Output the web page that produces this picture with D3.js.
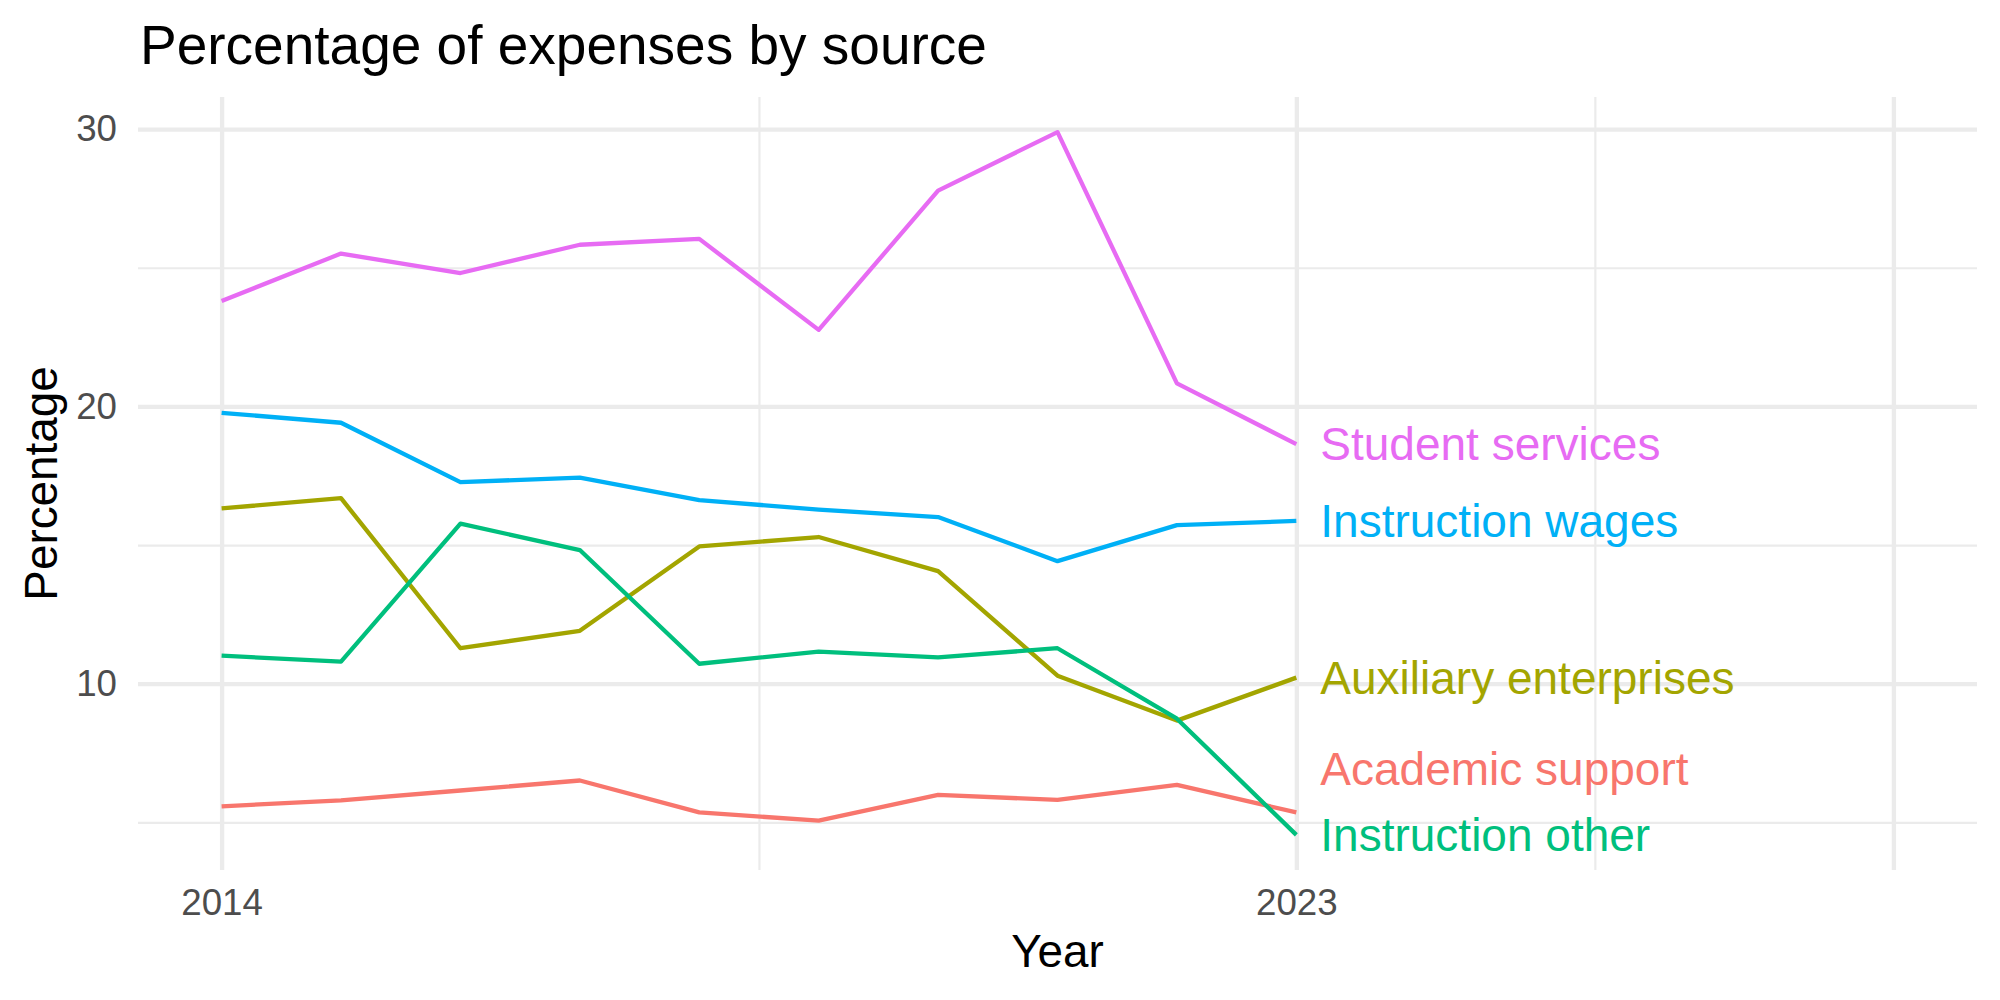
<!DOCTYPE html>
<html>
<head>
<meta charset="utf-8">
<script src="https://cdn.jsdelivr.net/npm/d3@7"></script>
<style>
  body { margin: 0; background: #fff; }
  text { font-family: "Liberation Sans", Arial, sans-serif; }
</style>
</head>
<body>
<div id="chart"></div>
<script>
// Data
const years = [2014, 2015, 2016, 2017, 2018, 2019, 2020, 2021, 2022, 2023];
const categories = ['Academic support', 'Auxiliary enterprises', 'Instruction other', 'Instruction wages', 'Student services'];
const academicSupport = [5.58, 5.79, 6.15, 6.51, 5.36, 5.06, 5.99, 5.81, 6.35, 5.36];
const auxiliaryEnterprises = [16.32, 16.69, 11.28, 11.91, 14.95, 15.29, 14.06, 10.29, 8.67, 10.22];
const instructionOther = [11.01, 10.80, 15.77, 14.82, 10.72, 11.16, 10.95, 11.28, 8.74, 4.55];
const instructionWages = [19.77, 19.41, 17.27, 17.43, 16.62, 16.28, 16.01, 14.42, 15.72, 15.87];
const studentServices = [23.80, 25.51, 24.81, 25.83, 26.04, 22.76, 27.78, 29.89, 20.83, 18.64];
const seriesValues = [academicSupport, auxiliaryEnterprises, instructionOther, instructionWages, studentServices];

const xLimits = [2014, 2028];
const xBreaks = [2014, 2023, 2028];
const xTickLabels = ['2014', '2023', ''];
const xMinor = [2018.5, 2025.5];
const yBreaks = [10, 20, 30];
const yTickLabels = ['10', '20', '30'];
const yMinor = [5, 15, 25];

const colors = ['#F8766D', '#A3A500', '#00BF7D', '#00B0F6', '#E76BF3'];

// Layout
const W = 2000, H = 1000;
const panel = { left: 138, right: 1977, top: 97, bottom: 870 };
const ph = panel.bottom - panel.top;
const gridColor = '#EBEBEB';

const svg = d3.select('#chart')
  .append('svg')
  .attr('width', W)
  .attr('height', H);

// Scales (5% expansion like ggplot)
const xr = xLimits[1] - xLimits[0];
const x = d3.scaleLinear()
  .domain([xLimits[0] - 0.05 * xr, xLimits[1] + 0.05 * xr])
  .range([panel.left, panel.right]);

const allVals = seriesValues.flat();
const yExt = d3.extent(allVals);
const yr = yExt[1] - yExt[0];
const y = d3.scaleLinear()
  .domain([yExt[0] - 0.05 * yr, yExt[1] + 0.05 * yr])
  .range([panel.bottom, panel.top]);

// Grid lines
function grid(g, width) {
  g.select('.domain').remove();
  g.selectAll('.tick line').attr('stroke', gridColor).attr('stroke-width', width);
}

svg.append('g')
  .attr('transform', `translate(0,${panel.bottom})`)
  .call(d3.axisBottom(x).tickValues(xMinor).tickSize(-ph).tickFormat(''))
  .call(g => grid(g, 2.2));
svg.append('g')
  .attr('transform', `translate(${panel.left},0)`)
  .call(d3.axisLeft(y).tickValues(yMinor).tickSize(-(panel.right - panel.left)).tickFormat(''))
  .call(g => grid(g, 2.2));
svg.append('g')
  .attr('transform', `translate(0,${panel.bottom})`)
  .call(d3.axisBottom(x).tickValues(xBreaks).tickSize(-ph).tickFormat(''))
  .call(g => grid(g, 4.3));
svg.append('g')
  .attr('transform', `translate(${panel.left},0)`)
  .call(d3.axisLeft(y).tickValues(yBreaks).tickSize(-(panel.right - panel.left)).tickFormat(''))
  .call(g => grid(g, 4.3));

// Tick labels
svg.append('g')
  .attr('transform', `translate(0,${panel.bottom})`)
  .call(d3.axisBottom(x).tickValues(xBreaks).tickSize(0).tickPadding(19)
    .tickFormat((d, i) => xTickLabels[i]))
  .call(g => g.select('.domain').remove())
  .selectAll('text')
    .attr('fill', '#4D4D4D')
    .style('font-size', '36.7px')
    .style('font-family', '"Liberation Sans", Arial, sans-serif');

svg.append('g')
  .attr('transform', `translate(${panel.left},0)`)
  .call(d3.axisLeft(y).tickValues(yBreaks).tickSize(0).tickPadding(21)
    .tickFormat((d, i) => yTickLabels[i]))
  .call(g => g.select('.domain').remove())
  .selectAll('text')
    .attr('fill', '#4D4D4D')
    .style('font-size', '36.7px')
    .style('font-family', '"Liberation Sans", Arial, sans-serif');

// Lines
const line = d3.line()
  .x((d, i) => x(years[i]))
  .y(d => y(d));

svg.selectAll('.series')
  .data(seriesValues)
  .enter()
  .append('path')
  .attr('class', 'series')
  .attr('d', d => line(d))
  .attr('fill', 'none')
  .attr('stroke', (d, i) => colors[i])
  .attr('stroke-width', 4.3)
  .attr('stroke-linejoin', 'round');

// End labels, nudged apart (simple repel from the bottom up)
const last = years.length - 1;
const labels = categories.map((c, i) => ({ name: c, color: colors[i], cy: y(seriesValues[i][last]) }));
const minGap = 66;
const sorted = labels.slice().sort((a, b) => b.cy - a.cy);
let prev = null;
sorted.forEach(l => {
  if (prev === null) l.cy = Math.min(l.cy, panel.bottom - 29);
  else l.cy = Math.min(l.cy, prev - minGap);
  prev = l.cy;
});

svg.selectAll('.end-label')
  .data(labels)
  .enter()
  .append('text')
  .attr('class', 'end-label')
  .attr('x', x(years[last]) + 24)
  .attr('y', d => d.cy)
  .attr('dy', '0.35em')
  .attr('fill', d => d.color)
  .style('font-size', '46px')
  .text(d => d.name);

// Titles
svg.append('text')
  .attr('x', 140)
  .attr('y', 64)
  .style('font-size', '55px')
  .attr('fill', '#000')
  .text('Percentage of expenses by source');

svg.append('text')
  .attr('x', (panel.left + panel.right) / 2)
  .attr('y', 967)
  .attr('text-anchor', 'middle')
  .style('font-size', '45.8px')
  .attr('fill', '#000')
  .text('Year');

svg.append('text')
  .attr('transform', `translate(57,${(panel.top + panel.bottom) / 2}) rotate(-90)`)
  .attr('text-anchor', 'middle')
  .style('font-size', '45.8px')
  .attr('fill', '#000')
  .text('Percentage');
</script>
</body>
</html>
